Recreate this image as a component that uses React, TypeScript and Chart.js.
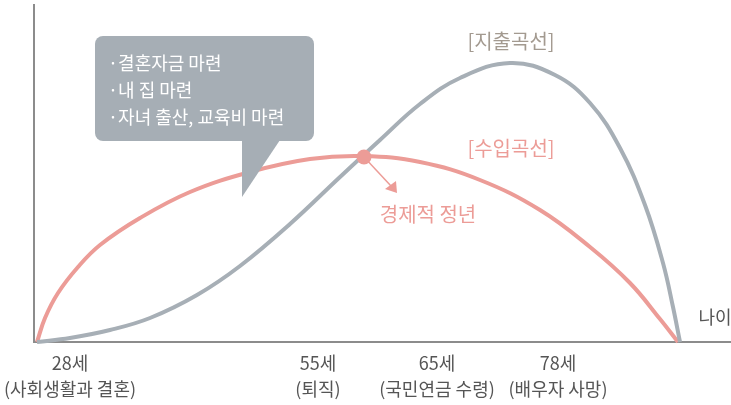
import React, { useEffect, useRef } from "react";
import { Chart, registerables } from "chart.js";

Chart.register(...registerables);

// x: position along the age axis (arbitrary units), y: amount (arbitrary units)
const incomeX = [3, 11, 24, 44, 66, 106, 156, 216, 276, 329, 386, 446, 506, 556, 596, 626, 644];
const incomeY = [0, 24, 49, 75, 97, 124, 150, 170, 183, 186, 180, 162, 132, 95, 59, 23, 0];

const spendX = [3, 36, 76, 116, 163, 206, 256, 306, 346, 386, 426, 476, 521, 556, 586, 611, 629, 639, 646];
const spendY = [0, 4, 12, 24, 47, 76, 118, 165, 202, 238, 264, 279, 267, 239, 194, 137, 79, 35, 0];

const tickValues = [36, 284, 403, 524];
const tickAges = ["28세", "55세", "65세", "78세"];
const tickNotes = ["(사회생활과 결혼)", "(퇴직)", "(국민연금 수령)", "(배우자 사망)"];

const bubbleLines = ["·결혼자금 마련", "·내 집 마련", "·자녀 출산, 교육비 마련"];
const crossPoint = { x: 330, y: 185 };

const PINK = "#ec9c97";
const GRAY = "#a7afb6";
const FONT = "'Noto Sans CJK KR', 'Noto Sans', sans-serif";

const annotationPlugin = {
  id: "annotations",
  afterDatasetsDraw(chart: any) {
    const ctx = chart.ctx;
    const xs = chart.scales.x;
    const ys = chart.scales.y;
    const px = (v: number) => xs.getPixelForValue(v);
    const py = (v: number) => ys.getPixelForValue(v);
    ctx.save();

    // speech bubble
    const bx = px(61), by = py(306), bw = px(280) - px(61), bh = py(201) - py(306);
    ctx.fillStyle = "#a6aeb5";
    ctx.beginPath();
    ctx.roundRect(bx, by, bw, bh, 8);
    ctx.fill();
    ctx.beginPath();
    ctx.moveTo(px(208), py(202));
    ctx.lineTo(px(246), py(202));
    ctx.lineTo(px(208), py(145));
    ctx.closePath();
    ctx.fill();
    ctx.fillStyle = "#ffffff";
    ctx.font = `18px ${FONT}`;
    ctx.textAlign = "left";
    ctx.textBaseline = "middle";
    bubbleLines.forEach((t, i) => {
      ctx.fillText(t, px(74), py(279) + i * 27);
    });

    // crossing dot + arrow
    const cx = px(crossPoint.x), cy = py(crossPoint.y);
    ctx.strokeStyle = PINK;
    ctx.fillStyle = PINK;
    ctx.lineWidth = 1.5;
    ctx.beginPath();
    ctx.moveTo(cx, cy);
    ctx.lineTo(px(357), py(156));
    ctx.stroke();
    ctx.beginPath();
    ctx.moveTo(px(363), py(149));
    ctx.lineTo(px(351), py(153));
    ctx.lineTo(px(362), py(161));
    ctx.closePath();
    ctx.fill();
    ctx.beginPath();
    ctx.arc(cx, cy, 7.5, 0, Math.PI * 2);
    ctx.fill();

    // labels
    ctx.textAlign = "center";
    ctx.font = `20px ${FONT}`;
    ctx.fillStyle = "#a39a90";
    ctx.fillText("[지출곡선]", px(477), py(301));
    ctx.fillStyle = PINK;
    ctx.fillText("[수입곡선]", px(477), py(194));
    ctx.fillText("경제적 정년", px(394), py(128));
    ctx.fillStyle = "#555555";
    ctx.font = `18px ${FONT}`;
    ctx.fillText("나이", px(681), py(25));
    ctx.restore();
  },
};

export default function App() {
  const ref = useRef<HTMLCanvasElement>(null);
  useEffect(() => {
    if (!ref.current) return;
    const chart = new Chart(ref.current, {
      type: "scatter",
      data: {
        datasets: [
          {
            label: "지출곡선",
            data: spendX.map((x, i) => ({ x, y: spendY[i] })),
            showLine: true,
            borderColor: GRAY,
            borderWidth: 4,
            pointRadius: 0,
            tension: 0.4,
            clip: false,
          } as any,
          {
            label: "수입곡선",
            data: incomeX.map((x, i) => ({ x, y: incomeY[i] })),
            showLine: true,
            borderColor: PINK,
            borderWidth: 4,
            pointRadius: 0,
            tension: 0.4,
            clip: false,
          } as any,
        ],
      },
      options: {
        animation: false,
        responsive: true,
        maintainAspectRatio: false,
        layout: { padding: { left: 34, top: 5, right: 0, bottom: 0 } },
        plugins: { legend: { display: false }, tooltip: { enabled: false } },
        scales: {
          x: {
            type: "linear",
            min: 0,
            max: 697,
            grid: { display: false, drawTicks: false },
            border: { display: true, color: "#8c8c8c", width: 2 },
            afterBuildTicks: (scale: any) => {
              scale.ticks = tickValues.map((v) => ({ value: v }));
            },
            afterFit: (scale: any) => {
              scale.height = 63;
              scale.paddingLeft = 0;
              scale.paddingRight = 0;
            },
            ticks: {
              autoSkip: false,
              maxRotation: 0,
              padding: 8,
              color: "#555555",
              font: { family: FONT, size: 18, lineHeight: 1.45 },
              callback: (value: any) => {
                const i = tickValues.indexOf(Number(value));
                return i >= 0 ? [tickAges[i], tickNotes[i]] : "";
              },
            },
          },
          y: {
            min: 0,
            max: 337,
            grid: { display: false, drawTicks: false },
            border: { display: true, color: "#8c8c8c", width: 2 },
            ticks: { display: false },
            afterFit: (scale: any) => {
              scale.width = 0;
              scale.paddingTop = 0;
              scale.paddingBottom = 0;
            },
          },
        },
      },
      plugins: [annotationPlugin],
    });
    return () => chart.destroy();
  }, []);
  return (
    <div style={{ position: "fixed", left: 0, top: 0, width: 731, height: 405, background: "#fff" }}>
      <canvas ref={ref} />
    </div>
  );
}
